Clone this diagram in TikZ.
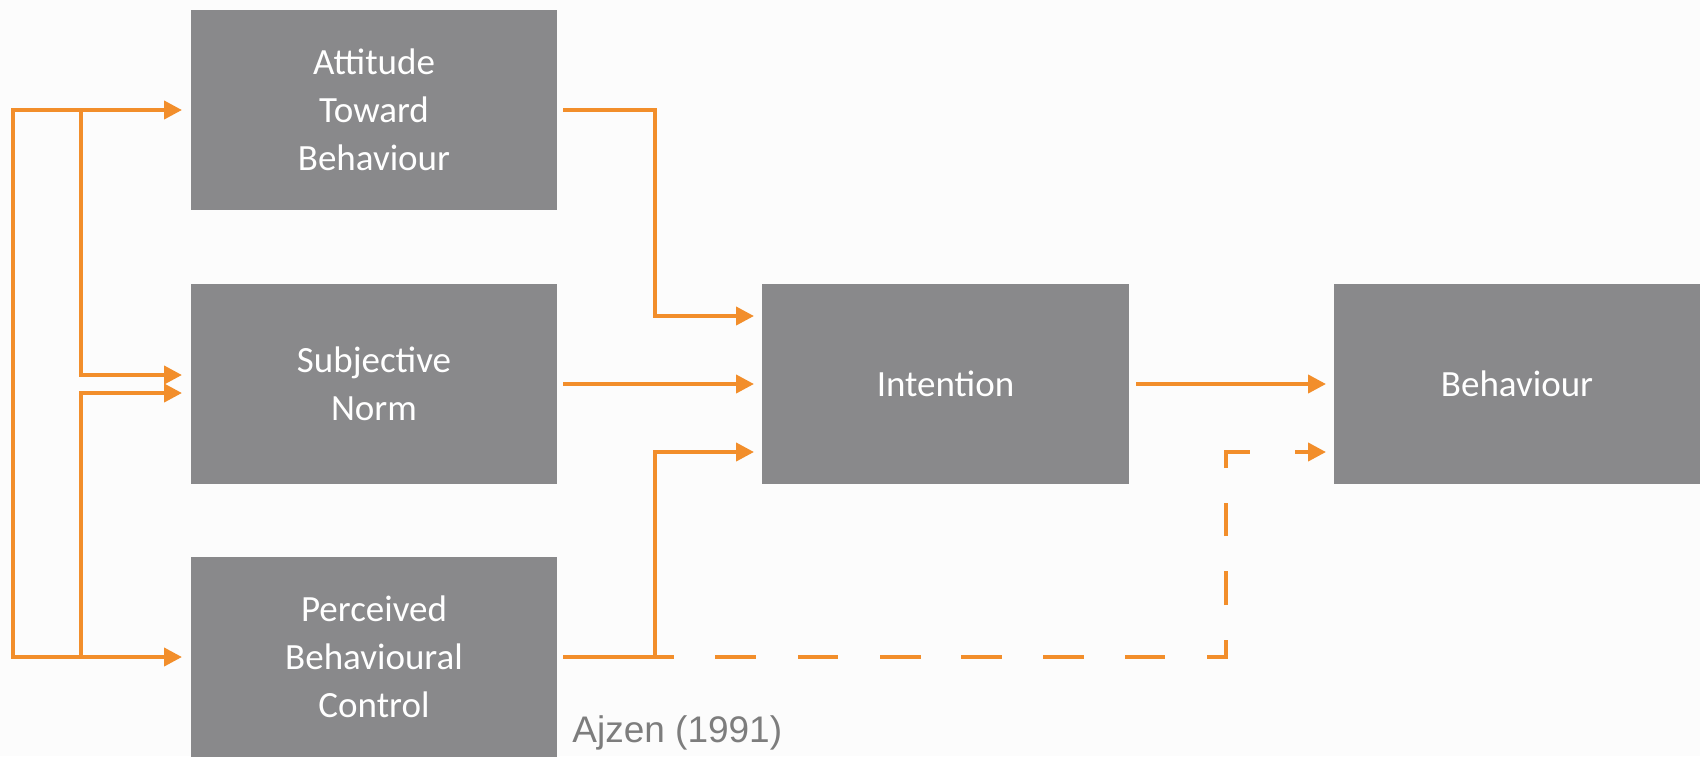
\documentclass[tikz,border=0pt]{standalone}
\usepackage{fontspec}
\setmainfont{Carlito}
\newfontfamily\arialf{Liberation Sans}
\usetikzlibrary{arrows.meta,calc}
\definecolor{boxgray}{RGB}{137,137,139}
\definecolor{lineorange}{RGB}{242,142,43}
\definecolor{bgwhite}{RGB}{252,252,252}
\definecolor{refgray}{RGB}{125,125,125}
\tikzset{
  tpbbox/.style={rectangle, fill=boxgray, draw=none, inner sep=0pt, outer sep=0pt,
    minimum width=183pt, minimum height=100pt, align=center, text=white,
    font=\fontsize{18.5}{24}\selectfont},
  arr/.style={draw=lineorange, line width=2pt, -{Triangle[length=9pt,width=9pt]}},
  arrboth/.style={draw=lineorange, line width=2pt, {Triangle[length=9pt,width=9pt]}-{Triangle[length=9pt,width=9pt]}},
  plain/.style={draw=lineorange, line width=2pt},
  longdash/.style={dash pattern=on 55.5pt off 20.5pt on 20.5pt off 21pt on 20pt off 21pt on 20.5pt off 20pt on 20.5pt off 20.5pt on 20.5pt off 20.5pt on 20pt off 21pt on 18pt off 17.5pt on 17pt off 17.5pt on 16.5pt off 17.5pt on 20pt off 22.5pt on 60pt}
}
\begin{document}
\begin{tikzpicture}[x=0.5pt,y=-0.5pt]
\useasboundingbox (0,0) rectangle (1700,756);
\fill[bgwhite] (0,0) rectangle (1700,756);
% boxes
\node[tpbbox] (att) at (374,110) {Attitude\\Toward\\Behaviour};
\node[tpbbox] (sub) at (374,384) {Subjective\\Norm};
\node[tpbbox] (pbc) at (374,657) {Perceived\\Behavioural\\Control};
\node[tpbbox, minimum width=183.5pt] (int) at (945.5,384) {Intention};
\node[tpbbox] (beh) at (1517,384) {Behaviour};
% left correlations
\coordinate (ja) at ($(att.west)+(-110,0)$);
\coordinate (jp) at ($(pbc.west)+(-110,0)$);
\draw[arrboth] ($(att.west)+(-9,0)$) -- ++(-169,0) |- ($(pbc.west)+(-9,0)$);
\draw[arr] (ja) |- ($(sub.west)+(-9,-9)$);
\draw[arr] (jp) |- ($(sub.west)+(-9,9)$);
% to intention
\draw[arr] ($(att.east)+(6,0)$) -- ++(92,0) |- ($(int.west)+(-8,-68)$);
\draw[arr] ($(sub.east)+(6,0)$) -- ($(int.west)+(-8,0)$);
\draw[arr] ($(pbc.east)+(6,0)$) -- ++(92,0) |- ($(int.west)+(-8,68)$);
% to behaviour
\draw[arr] ($(int.east)+(7,0)$) -- ($(beh.west)+(-8,0)$);
\draw[arr, longdash] ($(pbc.east)+(6,0)$) -| ($(beh.west)+(-108,68)$) -- ($(beh.west)+(-8,68)$);
% source
\node[anchor=base west, inner sep=0pt, text=refgray, font=\arialf\fontsize{18.5}{22}\selectfont] (src) at (572,742) {Ajzen (1991)};
\end{tikzpicture}
\end{document}
